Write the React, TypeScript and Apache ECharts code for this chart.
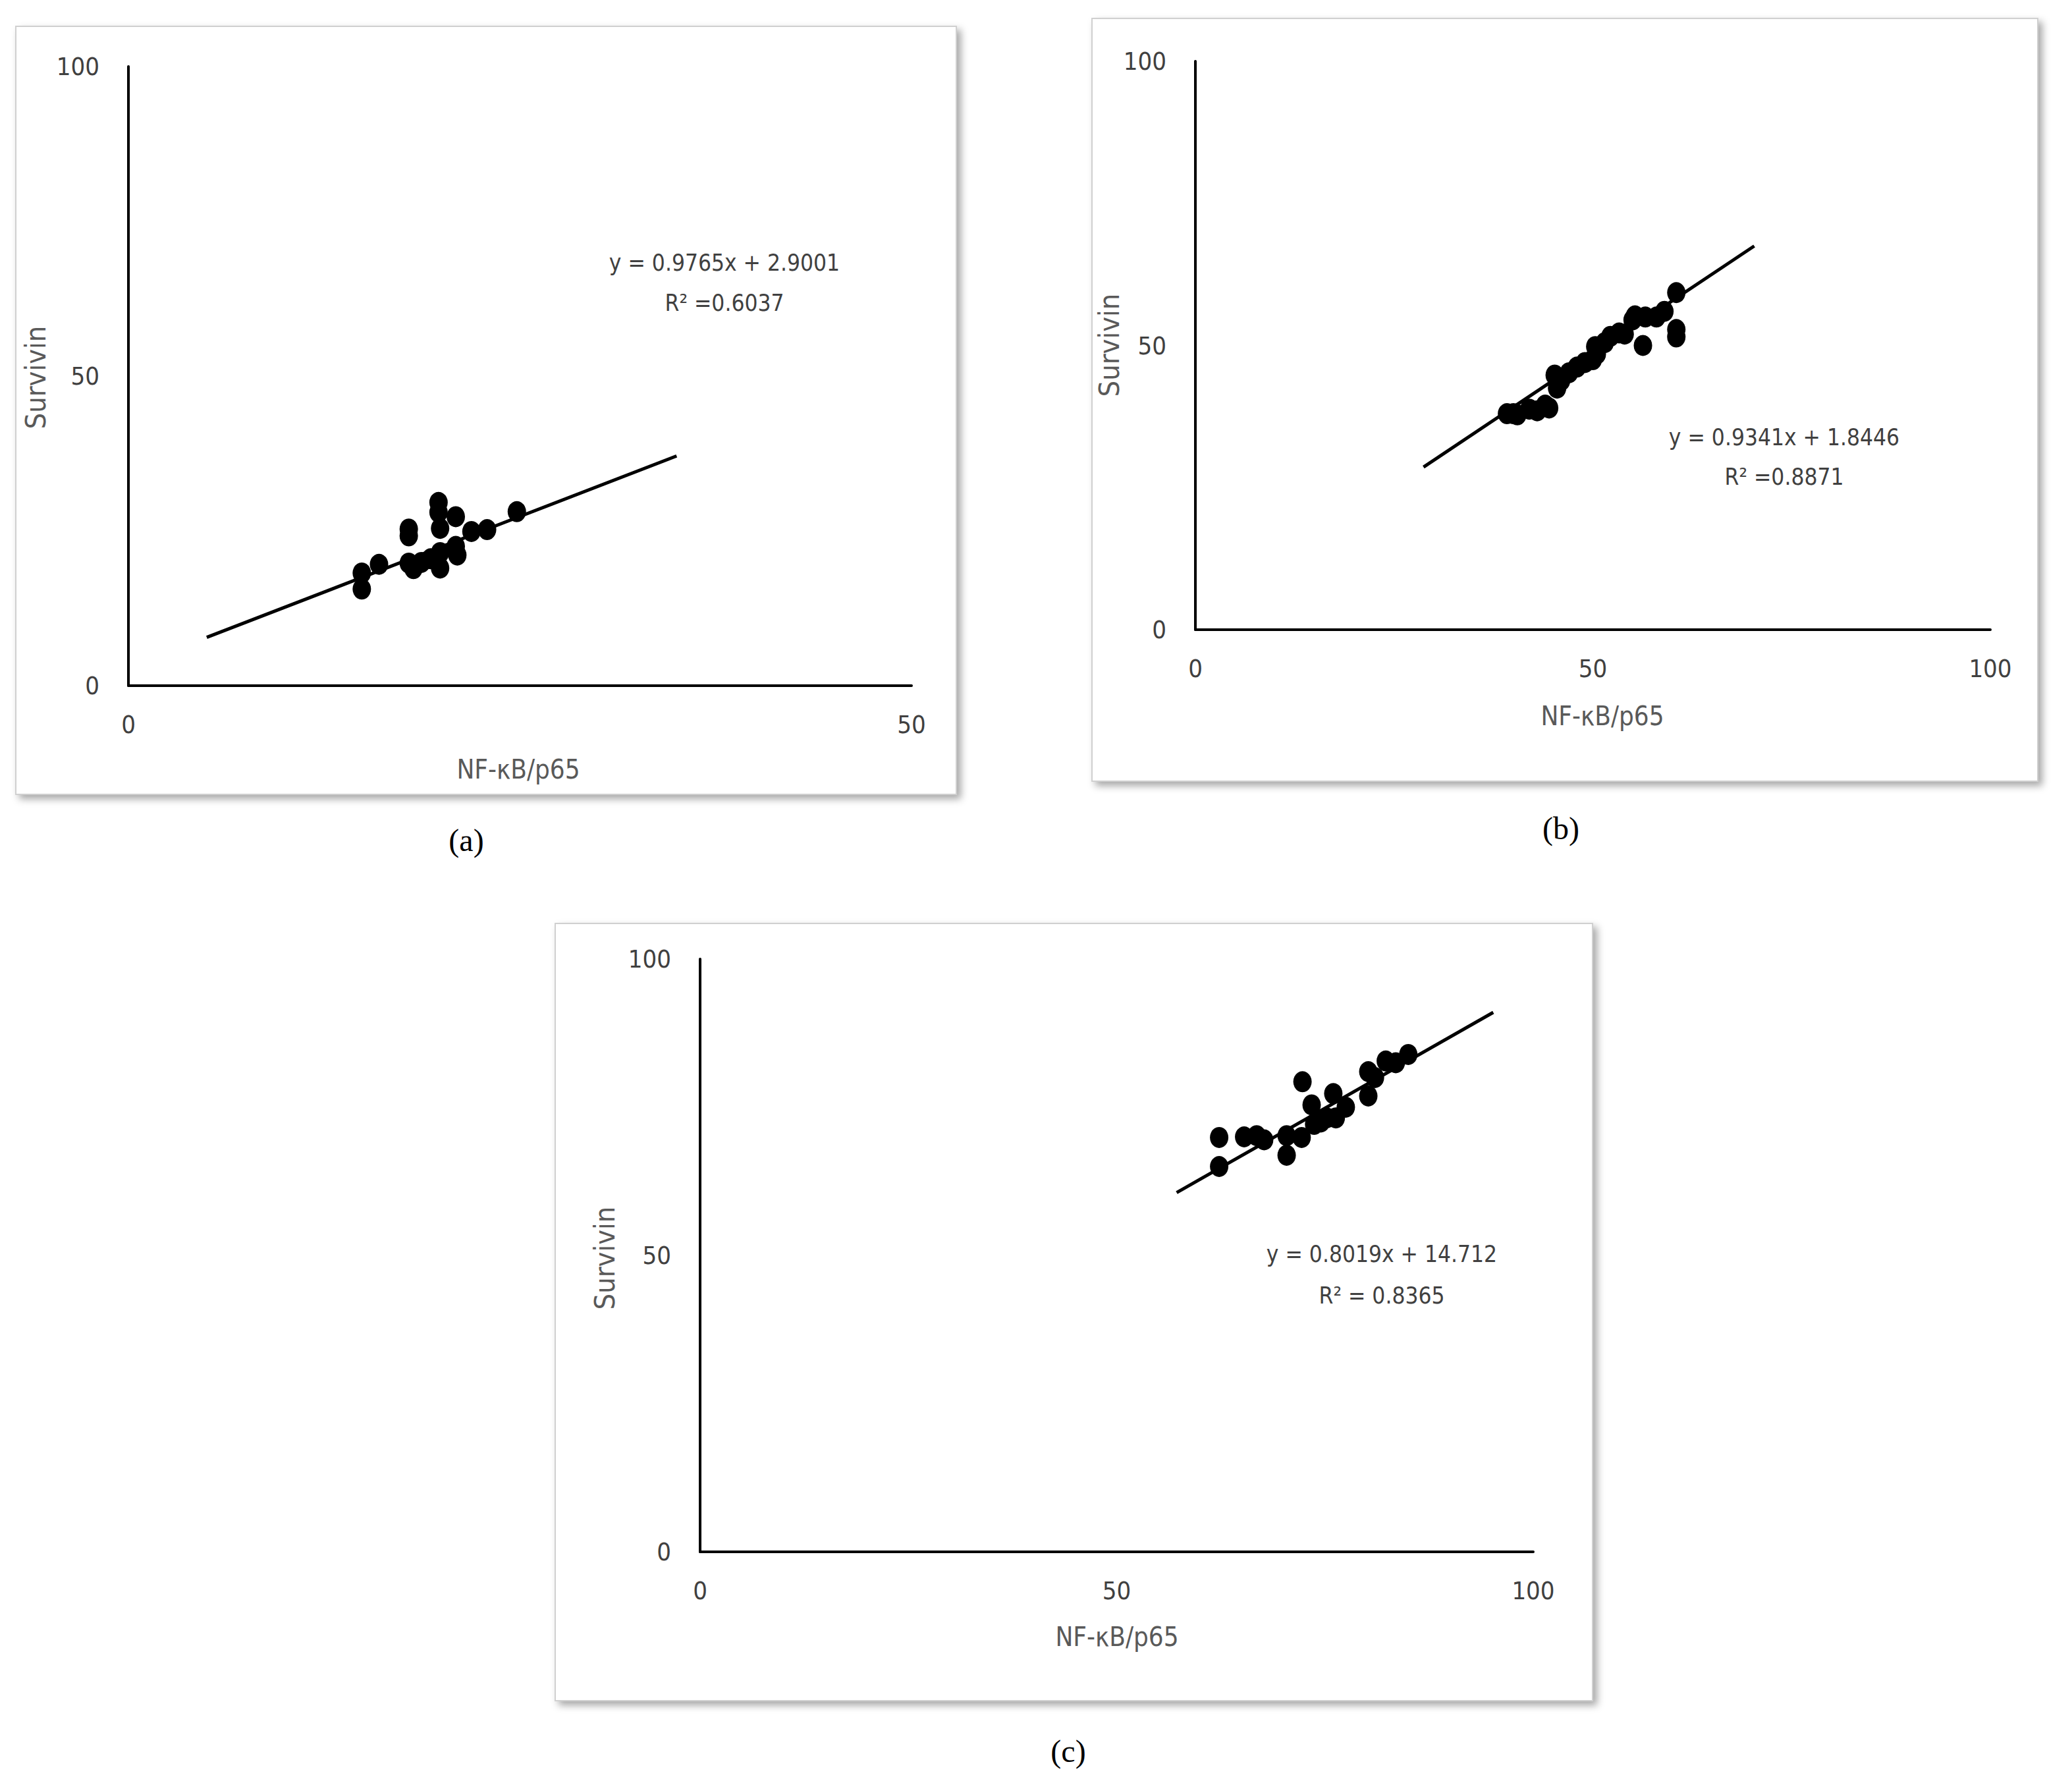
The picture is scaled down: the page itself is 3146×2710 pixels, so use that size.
import React, { useEffect, useRef } from "react";
import * as echarts from "echarts";

// ---------- Panel (a) ----------
const nfkbA = [14.9, 14.9, 16.0, 17.9, 17.9, 17.9, 18.2, 18.7, 19.3, 19.8, 19.8, 19.9, 19.9, 19.9, 20.9, 20.9, 21.0, 21.9, 22.9, 24.8];
const survivinA = [18.2, 15.6, 19.6, 25.3, 24.2, 19.8, 18.9, 19.9, 20.5, 29.6, 28.0, 25.4, 21.5, 19.0, 27.3, 22.5, 21.1, 24.9, 25.2, 28.1];
const trendXA = [5, 35];
const trendYA = [7.8, 37.1];
const eqA = ["y = 0.9765x + 2.9001", "R² =0.6037"];

// ---------- Panel (b) ----------
const nfkbB = [39.2, 40.0, 40.5, 42.0, 43.0, 44.0, 44.5, 45.2, 45.5, 46.0, 47.0, 48.0, 49.0, 50.0, 50.3, 50.5, 51.5, 52.2, 53.3, 54.0, 55.0, 55.3, 56.3, 56.6, 58.0, 59.0, 60.5, 60.5, 60.5];
const survivinB = [38.0, 38.0, 37.8, 38.8, 38.5, 39.5, 39.0, 44.8, 42.5, 43.8, 45.2, 46.2, 47.0, 47.5, 49.8, 48.5, 50.5, 51.6, 52.2, 52.0, 54.5, 55.2, 50.0, 55.0, 55.0, 56.0, 59.3, 52.8, 51.5];
const trendXB = [28.7, 70.3];
const trendYB = [28.6, 67.5];
const eqB = ["y = 0.9341x + 1.8446", "R² =0.8871"];

// ---------- Panel (c) ----------
const nfkbC = [62.3, 62.3, 65.3, 66.8, 67.7, 70.4, 70.4, 72.3, 72.2, 73.4, 73.7, 74.5, 75.2, 76.0, 76.3, 77.5, 80.2, 80.2, 81.0, 82.3, 83.5, 85.0];
const survivinC = [69.9, 65.0, 70.0, 70.2, 69.5, 66.9, 70.2, 79.3, 69.9, 75.4, 72.1, 72.5, 73.2, 77.3, 73.2, 75.0, 81.0, 76.9, 80.0, 82.8, 82.5, 83.9];
const trendXC = [57.2, 95.2];
const trendYC = [60.6, 91.0];
const eqC = ["y = 0.8019x + 14.712", "R² = 0.8365"];

const xTitle = "NF-κB/p65";
const yTitle = "Survivin";
const panelLabels = ["(a)", "(b)", "(c)"];

const SANS = "'Liberation Sans Narrow', 'DejaVu Sans Condensed', 'Liberation Sans', sans-serif";
const SERIF = "'Liberation Serif', 'DejaVu Serif', serif";
const TXT = "#404040";

function pairs(xs: number[], ys: number[]) {
  return xs.map((x, i) => [x, ys[i]]);
}

export default function App() {
  const ref = useRef<HTMLDivElement>(null);
  useEffect(() => {
    document.body.style.margin = "0";
    if (!ref.current) return;
    const chart = echarts.init(ref.current, null, { renderer: "svg" });

    const grids = [
      { left: 195, top: 101, width: 1189, height: 940 },
      { left: 1815, top: 93, width: 1207, height: 863 },
      { left: 1063, top: 1456, width: 1265, height: 900 },
    ];
    const xMax = [50, 100, 100];

    const axisLine = { show: true, onZero: false, lineStyle: { color: "#000", width: 4 } };
    const xAxes = grids.map((_, i) => ({
      type: "value",
      gridIndex: i,
      min: 0,
      max: xMax[i],
      interval: 50,
      axisLine,
      axisTick: { show: false },
      splitLine: { show: false },
      axisLabel: { color: TXT, fontSize: 38, fontFamily: SANS, margin: 40 },
    }));
    const yAxes = grids.map((_, i) => ({
      type: "value",
      gridIndex: i,
      min: 0,
      max: 100,
      interval: 50,
      axisLine,
      axisTick: { show: false },
      splitLine: { show: false },
      axisLabel: { color: TXT, fontSize: 38, fontFamily: SANS, margin: 44 },
    }));

    const scatterData = [pairs(nfkbA, survivinA), pairs(nfkbB, survivinB), pairs(nfkbC, survivinC)];
    const trendData = [pairs(trendXA, trendYA), pairs(trendXB, trendYB), pairs(trendXC, trendYC)];

    const series: any[] = [];
    for (let i = 0; i < 3; i++) {
      series.push({
        type: "line",
        xAxisIndex: i,
        yAxisIndex: i,
        data: trendData[i],
        symbol: "none",
        lineStyle: { color: "#000", width: 5 },
        z: 3,
      });
      series.push({
        type: "scatter",
        xAxisIndex: i,
        yAxisIndex: i,
        data: scatterData[i],
        symbol: "circle",
        symbolSize: [28, 32],
        itemStyle: { color: "#000", opacity: 1 },
        z: 4,
      });
    }

    const frames = [
      { x: 24, y: 40, width: 1428, height: 1166 },
      { x: 1658, y: 28, width: 1436, height: 1158 },
      { x: 843, y: 1402, width: 1575, height: 1180 },
    ];
    const yTitlePos = [[54, 573], [1684, 524], [918, 1910]];
    const xTitlePos = [[787, 1168], [2433, 1087], [1696, 2485]];
    const eqPos = [[1100, 399, 460], [2709, 664, 724], [2098, 1904, 1967]];
    const eqs = [eqA, eqB, eqC];
    const labelPos = [[708, 1275], [2370, 1257], [1622, 2658]];

    const graphic: any[] = [];
    frames.forEach((f) => {
      graphic.push({
        type: "rect",
        z: -100,
        shape: f,
        style: {
          fill: "#fff",
          stroke: "#d0d0d0",
          lineWidth: 2,
          shadowBlur: 12,
          shadowOffsetX: 6,
          shadowOffsetY: 6,
          shadowColor: "rgba(0,0,0,0.35)",
        },
      });
    });
    for (let i = 0; i < 3; i++) {
      graphic.push({
        type: "text",
        x: yTitlePos[i][0],
        y: yTitlePos[i][1],
        rotation: Math.PI / 2,
        style: { text: yTitle, fill: "#595959", font: `43px ${SANS}`, align: "center", verticalAlign: "middle" },
      });
      graphic.push({
        type: "text",
        x: xTitlePos[i][0],
        y: xTitlePos[i][1],
        style: { text: xTitle, fill: "#595959", font: `40px ${SANS}`, align: "center", verticalAlign: "middle" },
      });
      graphic.push({
        type: "text",
        x: eqPos[i][0],
        y: eqPos[i][1],
        style: { text: eqs[i][0], fill: TXT, font: `35px ${SANS}`, align: "center", verticalAlign: "middle" },
      });
      graphic.push({
        type: "text",
        x: eqPos[i][0],
        y: eqPos[i][2],
        style: { text: eqs[i][1], fill: TXT, font: `35px ${SANS}`, align: "center", verticalAlign: "middle" },
      });
      graphic.push({
        type: "text",
        x: labelPos[i][0],
        y: labelPos[i][1],
        style: { text: panelLabels[i], fill: "#000", font: `48px ${SERIF}`, align: "center", verticalAlign: "middle" },
      });
    }

    chart.setOption({
      animation: false,
      backgroundColor: "#fff",
      grid: grids,
      xAxis: xAxes,
      yAxis: yAxes,
      series,
      graphic: { elements: graphic },
    });
    return () => chart.dispose();
  }, []);
  return <div ref={ref} style={{ width: 3146, height: 2710 }} />;
}
